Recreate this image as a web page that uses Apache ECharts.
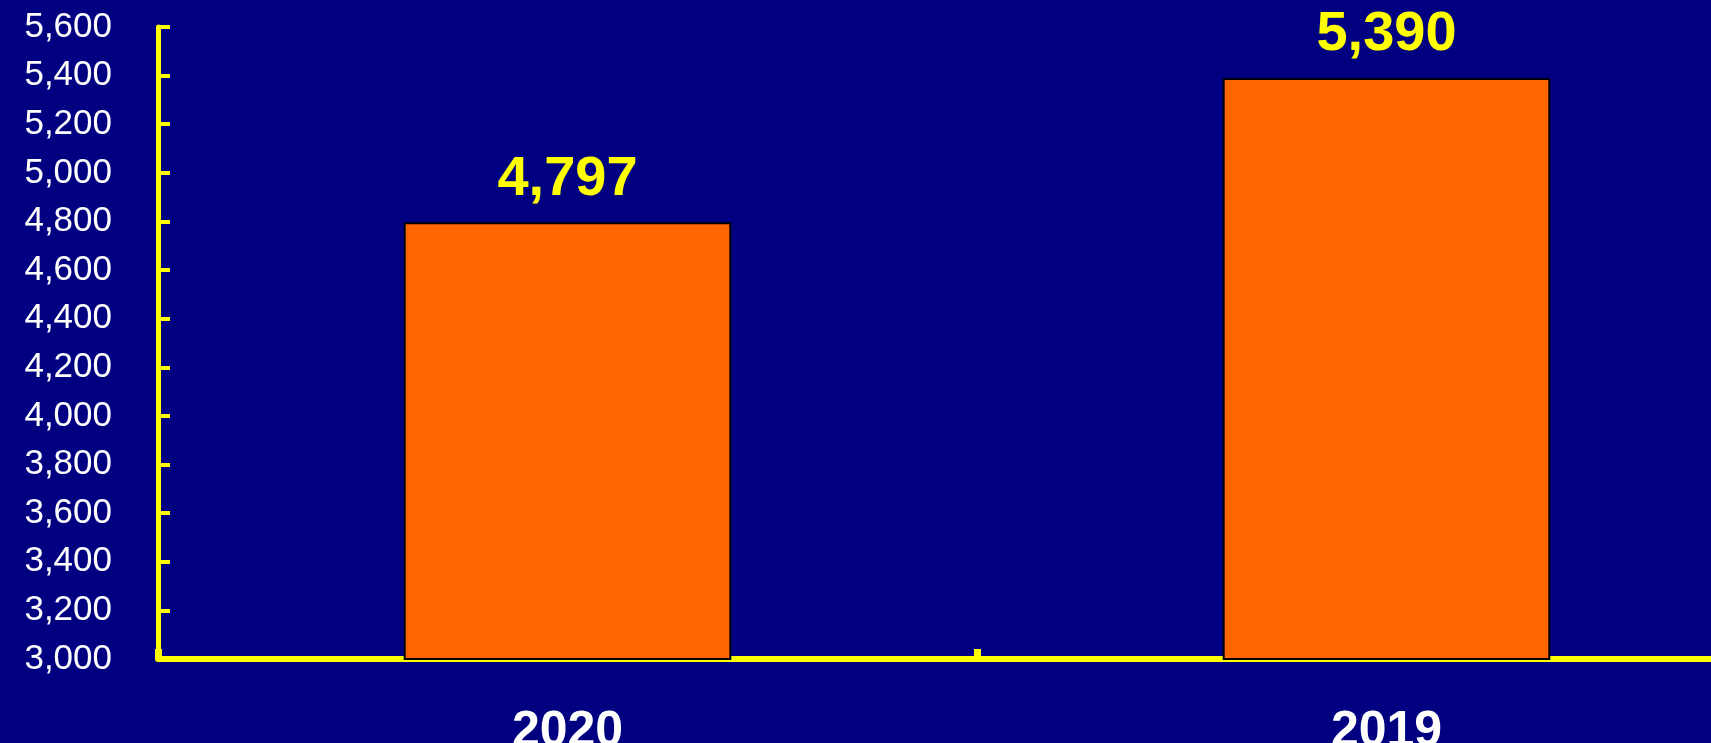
<!DOCTYPE html>
<html>
<head>
<meta charset="utf-8">
<script src="https://cdn.jsdelivr.net/npm/echarts@6/dist/echarts.min.js"></script>
<style>
html,body{margin:0;padding:0;background:#000080;}
#chart{width:1711px;height:743px;}
</style>
</head>
<body>
<div id="chart"></div>
<script>
var categories = ['2020', '2019'];
var values = [4797, 5390];
var yTicks = {min: 3000, max: 5600, interval: 200};

var chart = echarts.init(document.getElementById('chart'));
chart.setOption({
  backgroundColor: '#000080',
  animation: false,
  grid: {left: 158, top: 27, width: 1638, height: 632, containLabel: false, outerBoundsMode: 'none'},
  xAxis: {
    type: 'category',
    data: categories,
    axisLine: {show: true, lineStyle: {color: '#FFFF00', width: 6}},
    axisTick: {show: true, inside: true, length: 10, lineStyle: {color: '#FFFF00', width: 7}},
    axisLabel: {color: '#FFFFFF', fontFamily: 'Liberation Sans', fontWeight: 'bold', fontSize: 50, margin: 48},
    splitLine: {show: false}
  },
  yAxis: {
    type: 'value',
    min: yTicks.min, max: yTicks.max, interval: yTicks.interval,
    axisLine: {show: true, lineStyle: {color: '#FFFF00', width: 5}},
    axisTick: {show: true, inside: true, length: 12, lineStyle: {color: '#FFFF00', width: 4}},
    axisLabel: {color: '#FFFFFF', fontFamily: 'Liberation Sans', fontSize: 35, margin: 46,
      formatter: function (v) { return v.toLocaleString('en-US'); }},
    splitLine: {show: false}
  },
  series: [{
    type: 'bar',
    data: values,
    barWidth: '40%',
    itemStyle: {color: '#FF6600', borderColor: '#000000', borderWidth: 2},
    label: {
      show: true, position: 'top', distance: 15,
      color: '#FFFF00', fontFamily: 'Liberation Sans', fontWeight: 'bold', fontSize: 56,
      formatter: function (p) { return p.value.toLocaleString('en-US'); }
    }
  }]
});
</script>
</body>
</html>
